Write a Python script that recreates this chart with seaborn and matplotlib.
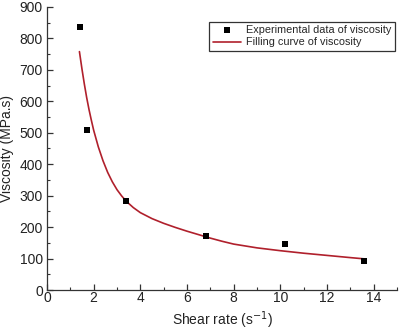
import matplotlib
matplotlib.use("Agg")
import matplotlib.pyplot as plt
from matplotlib.ticker import MultipleLocator
import seaborn as sns
import pandas as pd

# Experimental data
shear_rate = [1.4, 1.7, 3.4, 6.8, 10.2, 13.6]
viscosity = [836, 510, 282, 172, 145, 93]

# Fitted curve
fit_x = [1.39, 1.5, 1.6, 1.7, 1.8, 1.9, 2.0, 2.2, 2.4, 2.6, 2.8, 3.0, 3.2, 3.4,
         3.7, 4.0, 4.5, 5.0, 5.5, 6.0, 6.5, 7.0, 7.5, 8.0, 9.0, 10.0, 11.0,
         12.0, 13.0, 13.6]
fit_y = [758, 702, 655, 612, 574, 540, 508, 455, 411, 374, 344, 319, 299, 282,
         262, 246, 227, 212, 199, 187, 176, 165, 155, 146, 134, 125, 117,
         110, 103, 99]

sns.set_theme(style="ticks")
plt.rcParams['font.family'] = ['Liberation Sans', 'DejaVu Sans']

fig = plt.figure(figsize=(4.0, 3.32), dpi=100)
ax = fig.add_axes([0.1175, 0.1265, 0.875, 0.8525])

df_pts = pd.DataFrame({"x": shear_rate, "y": viscosity})
df_fit = pd.DataFrame({"x": fit_x, "y": fit_y})

sns.lineplot(data=df_fit, x="x", y="y", ax=ax, color="#b0202c", linewidth=1.2,
             label="Filling curve of viscosity", zorder=2)
sns.scatterplot(data=df_pts, x="x", y="y", ax=ax, marker="s", s=22, color="black",
                edgecolor="black", linewidth=0, label="Experimental data of viscosity", zorder=3)

ax.set_xlim(0, 15)
ax.set_ylim(0, 900)
ax.xaxis.set_major_locator(MultipleLocator(2))
ax.xaxis.set_minor_locator(MultipleLocator(1))
ax.yaxis.set_major_locator(MultipleLocator(100))
ax.yaxis.set_minor_locator(MultipleLocator(50))
ax.tick_params(which="major", direction="in", length=4, width=0.9, labelsize=10,
               colors="#333333", labelcolor="#222222")
ax.tick_params(axis="x", which="major", pad=1)
ax.tick_params(axis="y", which="major", pad=3)
ax.tick_params(which="minor", direction="in", length=2.2, width=0.8, colors="#333333")
for s in ["top", "right"]:
    ax.spines[s].set_visible(False)
for s in ["left", "bottom"]:
    ax.spines[s].set_linewidth(0.9)
    ax.spines[s].set_color("#333333")

ax.set_xlabel("Shear rate (s$^{-1}$)", fontsize=10, color="#222222", labelpad=3)
ax.set_ylabel("Viscosity (MPa.s)", fontsize=10, color="#222222", labelpad=4)

handles, labels = ax.get_legend_handles_labels()
order = [labels.index("Experimental data of viscosity"), labels.index("Filling curve of viscosity")]
leg = ax.legend([handles[i] for i in order], [labels[i] for i in order],
                loc="upper right", bbox_to_anchor=(1.0, 0.955), fontsize=7.8,
                frameon=True, fancybox=False, edgecolor="#333333", framealpha=1,
                handlelength=2.6, handletextpad=0.5, borderpad=0.3, labelspacing=0.2,
                borderaxespad=0.2)
leg.get_frame().set_linewidth(0.9)

fig.savefig("out.png", dpi=100)
